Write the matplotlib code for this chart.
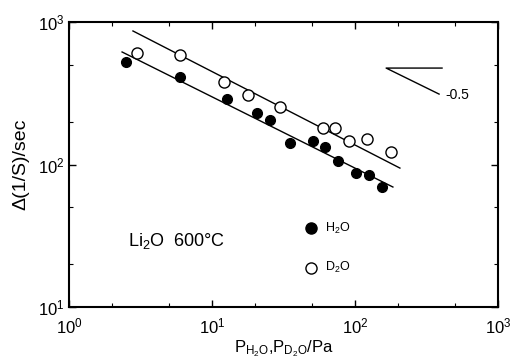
import matplotlib
matplotlib.use("Agg")
import matplotlib.pyplot as plt
import numpy as np
from matplotlib.ticker import LogLocator, NullFormatter

plt.rcParams['font.family'] = ['Liberation Sans', 'DejaVu Sans']
plt.rcParams['mathtext.fontset'] = 'custom'
plt.rcParams['mathtext.rm'] = 'Liberation Sans'
plt.rcParams['mathtext.it'] = 'Liberation Sans'

# H2O (黑点)
h2o_p = [2.5, 5.97, 12.7, 20.6, 25.5, 35.1, 50.9, 61.7, 76.1, 101.6, 125, 154.5]
h2o_y = [524, 411, 288, 230, 205, 142, 146, 133, 106, 87, 84, 69.5]

# D2O (白圈)
d2o_p = [2.99, 5.97, 12.1, 17.9, 29.9, 59.7, 72.5, 90.8, 121, 178.5]
d2o_y = [606, 586, 380, 308, 253, 180, 180, 146, 151, 122]

# 拟合直线端点
h2o_fit_x = [2.35, 184]
h2o_fit_y = [616, 69.5]
d2o_fit_x = [2.80, 206]
d2o_fit_y = [865, 94.4]

# 斜率示意
slope_x = [406, 165, 387]
slope_y = [475, 475, 312]

fig = plt.figure(figsize=(5.12, 3.6), dpi=100)
ax = fig.add_axes([0.1348, 0.1472, 0.8379, 0.7917])

ax.plot(h2o_fit_x, h2o_fit_y, color='black', lw=1.0)
ax.plot(d2o_fit_x, d2o_fit_y, color='black', lw=1.0)
ax.plot(h2o_p, h2o_y, 'o', ms=7, mfc='black', mec='black', mew=1.0, zorder=3)
ax.plot(d2o_p, d2o_y, 'o', ms=8, mfc='white', mec='black', mew=1.0, zorder=3)

ax.plot(slope_x, slope_y, color='black', lw=1.0)
ax.text(430, 305, '-0.5', fontsize=10, va='center', ha='left')

# 图例
ax.plot([49.2], [35.8], 'o', ms=8, mfc='black', mec='black')
ax.text(62, 35.8, 'H$_2$O', fontsize=9, va='center')
ax.plot([49.2], [18.8], 'o', ms=8, mfc='white', mec='black')
ax.text(62, 18.8, 'D$_2$O', fontsize=9, va='center')

ax.text(2.6, 29, 'Li$_2$O  600°C', fontsize=13, va='center')

ax.set_xscale('log')
ax.set_yscale('log')
ax.set_xlim(1, 1000)
ax.set_ylim(10, 1000)

for axis in (ax.xaxis, ax.yaxis):
    axis.set_major_locator(LogLocator(base=10))
    axis.set_minor_locator(LogLocator(base=10, subs=(2, 5)))
    axis.set_minor_formatter(NullFormatter())

ax.tick_params(which='both', direction='in', top=True, right=True, labelsize=12)
ax.tick_params(which='major', length=5, width=1)
ax.tick_params(which='minor', length=3, width=0.8)
ax.tick_params(axis='x', which='major', pad=7)
for s in ax.spines.values():
    s.set_linewidth(1.5)

ax.set_xlabel('P$_{\\mathrm{H_2O}}$,P$_{\\mathrm{D_2O}}$/Pa', fontsize=12, labelpad=1)
ax.set_ylabel('Δ(1/S)/sec', fontsize=14, labelpad=6)

fig.savefig('out.png', dpi=100)
